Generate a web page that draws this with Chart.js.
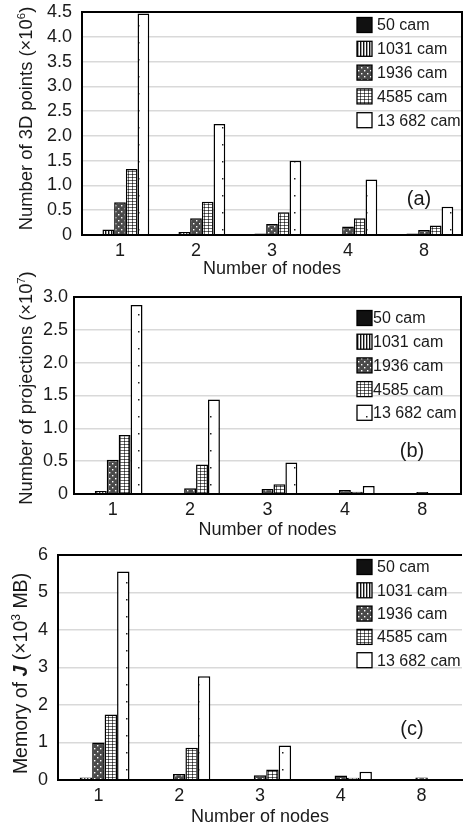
<!DOCTYPE html>
<html><head><meta charset="utf-8">
<script src="https://cdn.jsdelivr.net/npm/chart.js@4.4.1/dist/chart.umd.min.js"></script>
<style>
html,body{margin:0;padding:0;background:#fff;width:463px;height:829px;overflow:hidden;position:relative;}
canvas{position:absolute;left:0;}
</style></head><body>
<canvas id="ca" width="463" height="280" style="top:0px"></canvas>
<canvas id="cb" width="463" height="286" style="top:255px"></canvas>
<canvas id="cc" width="463" height="289" style="top:540px"></canvas>
<script>
// ---------- data ----------
const categories = ['1', '2', '3', '4', '8'];
const seriesLabels = ['50 cam', '1031 cam', '1936 cam', '4585 cam', '13 682 cam'];

// (a) Number of 3D points (x10^6)
const pointsCam50    = [0.004, 0.004, 0.003, 0.003, 0.003];
const pointsCam1031  = [0.11, 0.06, 0.03, 0.02, 0.03];
const pointsCam1936  = [0.66, 0.34, 0.22, 0.17, 0.10];
const pointsCam4585  = [1.33, 0.67, 0.46, 0.34, 0.19];
const pointsCam13682 = [4.47, 2.24, 1.50, 1.12, 0.57];
const pointsTicks = ['0', '0.5', '1.0', '1.5', '2.0', '2.5', '3.0', '3.5', '4.0', '4.5'];

// (b) Number of projections (x10^7)
const projCam50    = [0.003, 0.002, 0.002, 0.002, 0.002];
const projCam1031  = [0.045, 0.010, 0.005, 0.004, 0.003];
const projCam1936  = [0.52, 0.086, 0.076, 0.06, 0.03];
const projCam4585  = [0.90, 0.45, 0.15, 0.035, 0.01];
const projCam13682 = [2.88, 1.44, 0.48, 0.12, 0.005];
const projTicks = ['0', '0.5', '1.0', '1.5', '2.0', '2.5', '3.0'];

// (c) Memory of J (x10^3 MB)
const memCam50    = [0.003, 0.003, 0.003, 0.003, 0.003];
const memCam1031  = [0.07, 0.02, 0.01, 0.01, 0.005];
const memCam1936  = [1.00, 0.16, 0.13, 0.12, 0.07];
const memCam4585  = [1.75, 0.86, 0.28, 0.06, 0.005];
const memCam13682 = [5.56, 2.77, 0.92, 0.22, 0.03];
const memTicks = ['0', '1', '2', '3', '4', '5', '6'];

const xTitle = 'Number of nodes';

// ---------- styling ----------
const FONT = '"Liberation Sans", Arial, Helvetica, sans-serif';
Chart.defaults.font.family = FONT;
Chart.defaults.color = '#1a1a1a';

function makePatterns(ctx) {
  function tile(w, h, draw) {
    const c = document.createElement('canvas');
    c.width = w; c.height = h;
    const g = c.getContext('2d');
    draw(g);
    return ctx.createPattern(c, 'repeat');
  }
  const solid = '#111111';
  const stripes = tile(3, 2, g => { g.fillStyle = '#fff'; g.fillRect(0, 0, 3, 2); g.fillStyle = '#111'; g.fillRect(0, 0, 1.4, 2); });
  const darkDots = tile(6, 6, g => { g.fillStyle = '#4a4a4a'; g.fillRect(0, 0, 6, 6); g.fillStyle = '#fff'; g.fillRect(1, 1, 1.4, 1.4); g.fillRect(4, 4, 1.4, 1.4); });
  const gridDots = tile(4, 3, g => { g.fillStyle = '#fff'; g.fillRect(0, 0, 4, 3); g.fillStyle = '#6a6a6a'; g.fillRect(0, 0, 4, 1); g.fillRect(0, 0, 1, 3); g.fillStyle = '#222'; g.fillRect(0, 0, 1, 1); });
  const sparse = tile(12, 17, g => { g.fillStyle = '#fff'; g.fillRect(0, 0, 12, 17); g.fillStyle = '#222'; g.fillRect(6, 8, 1.5, 1.5); });
  return [solid, stripes, darkDots, gridDots, sparse];
}

function makeOverlay(spec) {
  return {
    id: 'overlay_' + spec.id,
    afterDatasetsDraw(chart) {
      const ctx = chart.ctx;
      const ca = chart.chartArea;
      ctx.save();
      // frame
      ctx.strokeStyle = '#000';
      ctx.lineWidth = 2;
      ctx.beginPath();
      ctx.moveTo(ca.left, ca.bottom); ctx.lineTo(ca.left, ca.top); ctx.lineTo(ca.right, ca.top);
      if (spec.rightBorder) ctx.lineTo(ca.right, ca.bottom);
      ctx.stroke();
      ctx.beginPath(); ctx.moveTo(ca.left, ca.bottom); ctx.lineTo(ca.right, ca.bottom); ctx.stroke();

      // legend
      const L = spec.legend;
      ctx.font = L.size + 'px ' + FONT;
      ctx.textBaseline = 'middle';
      ctx.textAlign = 'left';
      chart.data.datasets.forEach((ds, i) => {
        const y = ca.top + L.top + i * L.step;
        ctx.fillStyle = ds.backgroundColor;
        ctx.fillRect(L.x, y - L.box / 2, L.box, L.box);
        ctx.lineWidth = 1.3; ctx.strokeStyle = '#000';
        ctx.strokeRect(L.x, y - L.box / 2, L.box, L.box);
        ctx.fillStyle = '#1a1a1a';
        ctx.fillText(ds.label, L.x + L.box + L.gap, y + 1);
      });

      // panel tag
      ctx.font = spec.tag.size + 'px ' + FONT;
      ctx.textAlign = 'center';
      ctx.fillText(spec.tag.text, spec.tag.x, ca.top + spec.tag.y);

      // y title (rotated, mixed fonts)
      const segs = spec.yTitle.segs;
      const base = spec.yTitle.size;
      const fontOf = s => (s.style || '') + ' ' + (s.sup ? base * 0.62 : base).toFixed(1) + 'px ' + FONT;
      let total = 0;
      segs.forEach(s => { ctx.font = fontOf(s); total += ctx.measureText(s.t).width; });
      ctx.translate(spec.yTitle.x, (ca.top + ca.bottom) / 2 + spec.yTitle.dy);
      ctx.rotate(-Math.PI / 2);
      ctx.textAlign = 'left';
      ctx.textBaseline = 'alphabetic';
      let x = -total / 2;
      const bl = base * 0.36;
      segs.forEach(s => {
        ctx.font = fontOf(s);
        ctx.fillText(s.t, x, bl - (s.sup ? base * 0.38 : 0));
        x += ctx.measureText(s.t).width;
      });
      ctx.restore();
    }
  };
}

function buildChart(spec) {
  const canvas = document.getElementById(spec.id);
  const ctx = canvas.getContext('2d');
  const pats = makePatterns(ctx);
  return new Chart(ctx, {
    type: 'bar',
    data: {
      labels: categories,
      datasets: spec.series.map((d, i) => ({
        label: seriesLabels[i], data: d,
        backgroundColor: pats[i], borderColor: '#000', borderWidth: 1.5,
        borderSkipped: 'start', categoryPercentage: 0.77, barPercentage: 1.0
      }))
    },
    options: {
      responsive: false, animation: false, devicePixelRatio: 1, events: [],
      layout: { padding: spec.padding },
      plugins: { legend: { display: false }, tooltip: { enabled: false } },
      scales: {
        x: {
          grid: { display: false, drawTicks: false },
          border: { display: true, color: '#000', width: 2 },
          ticks: { font: { size: spec.fontSize }, padding: spec.xTickPad, color: '#1a1a1a' },
          title: { display: true, text: xTitle, font: { size: spec.fontSize }, padding: { top: 0, bottom: 0 }, color: '#1a1a1a' },
          afterFit: s => { s.height = spec.xHeight; }
        },
        y: {
          min: 0, max: spec.yMax,
          grid: { color: '#d9d9d9', lineWidth: 1.5, drawTicks: true, tickLength: spec.yTickPad, tickColor: 'rgba(0,0,0,0)' },
          border: { display: true, color: '#000', width: 2 },
          ticks: { stepSize: spec.yStep, autoSkip: false, font: { size: spec.fontSize }, padding: 0, color: '#1a1a1a',
                   callback: (v, i) => spec.yTicks[i] },
          afterFit: s => { s.width = spec.yWidth; }
        }
      }
    },
    plugins: [makeOverlay(spec)]
  });
}

buildChart({
  id: 'ca',
  series: [pointsCam50, pointsCam1031, pointsCam1936, pointsCam4585, pointsCam13682],
  yMax: 4.5, yStep: 0.5, yTicks: pointsTicks,
  padding: { left: 0, right: 1, top: 12, bottom: 0 },
  yWidth: 82, xHeight: 45, xTickPad: 5, yTickPad: 10, fontSize: 18,
  rightBorder: true,
  legend: { x: 357, top: 13, step: 23.8, box: 15, gap: 5, size: 16 },
  tag: { text: '(a)', x: 419, y: 187, size: 20 },
  yTitle: { x: 25, dy: -5, size: 18.4, segs: [{ t: 'Number of 3D points (×10' }, { t: '6', sup: true }, { t: ')' }] }
});

buildChart({
  id: 'cb',
  series: [projCam50, projCam1031, projCam1936, projCam4585, projCam13682],
  yMax: 3.0, yStep: 0.5, yTicks: projTicks,
  padding: { left: 0, right: 2, top: 42, bottom: 0 },
  yWidth: 74, xHeight: 47, xTickPad: 5, yTickPad: 6, fontSize: 18,
  rightBorder: true,
  legend: { x: 357, top: 21, step: 23.7, box: 15, gap: 1, size: 16 },
  tag: { text: '(b)', x: 412, y: 154, size: 20 },
  yTitle: { x: 25, dy: -7.5, size: 18.3, segs: [{ t: 'Number of projections (×10' }, { t: '7', sup: true }, { t: ')' }] }
});

buildChart({
  id: 'cc',
  series: [memCam50, memCam1031, memCam1936, memCam4585, memCam13682],
  yMax: 6, yStep: 1, yTicks: memTicks,
  padding: { left: 0, right: 1, top: 15, bottom: 1 },
  yWidth: 58, xHeight: 48, xTickPad: 5, yTickPad: 10, fontSize: 18,
  rightBorder: false,
  legend: { x: 357, top: 12, step: 23.3, box: 15, gap: 5, size: 16 },
  tag: { text: '(c)', x: 412, y: 174, size: 20 },
  yTitle: { x: 20, dy: 6, size: 19.5, segs: [{ t: 'Memory of ' }, { t: 'J', style: 'italic bold' }, { t: ' (×10' }, { t: '3', sup: true }, { t: ' MB)' }] }
});
</script>
</body></html>
